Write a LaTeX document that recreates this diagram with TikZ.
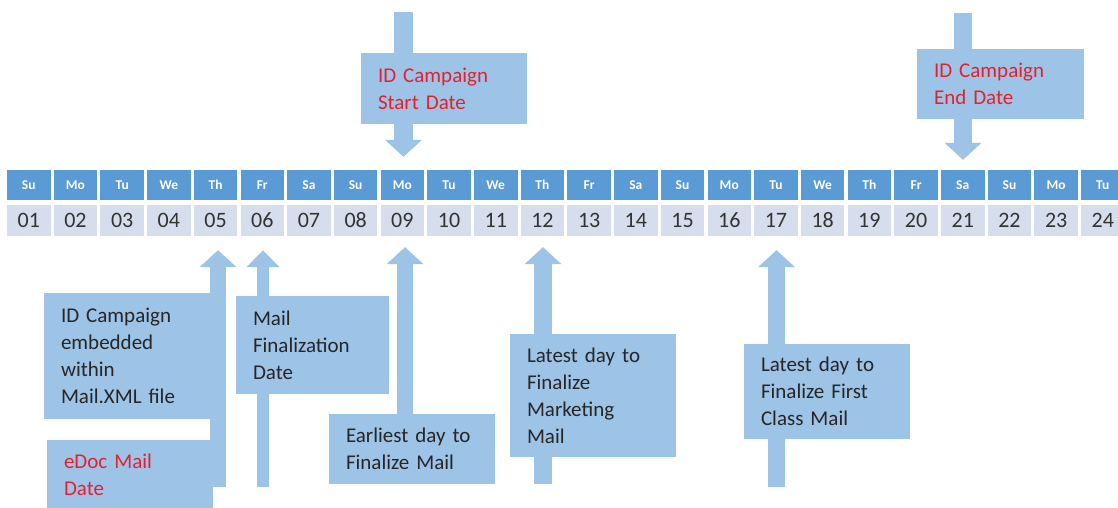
\documentclass[tikz,border=0pt]{standalone}
\usepackage{fontspec}
\setmainfont{Carlito}
\usetikzlibrary{arrows.meta}
\definecolor{hdrblue}{HTML}{5B9BD5}
\definecolor{cellgray}{HTML}{D6DEEE}
\definecolor{boxblue}{HTML}{9DC3E6}
\definecolor{txtred}{HTML}{E5202E}
\definecolor{numgray}{HTML}{333333}
\definecolor{txtdark}{HTML}{262626}
\begin{document}
\begin{tikzpicture}[x=1pt,y=-1pt,
 hdr/.style={fill=hdrblue, text=white, minimum width=43.5pt, minimum height=30pt, inner sep=0pt, font=\fontsize{13.5}{13.5}\selectfont\bfseries},
 num/.style={fill=cellgray, text=numgray, minimum width=43.5pt, minimum height=31pt, inner sep=0pt, font=\fontsize{22}{22}\selectfont},
 box/.style={fill=boxblue, text=txtdark, inner xsep=17pt, inner ysep=0pt, outer sep=0pt, align=left, font=\fontsize{21}{27}\selectfont},
 redtext/.style={text=txtred},
 bigarrow/.style={draw=boxblue, line width=#1, -{Triangle[width=36pt,length=17pt]}},
 narrowarrow/.style={draw=boxblue, line width=#1, -{Triangle[width=32pt,length=17pt]}},
]
\useasboundingbox (0,0) rectangle (1118,508);
\fill[white] (0,0) rectangle (1118,508);

% calendar
\foreach \d [count=\i] in {Su,Mo,Tu,We,Th,Fr,Sa,Su,Mo,Tu,We,Th,Fr,Sa,Su,Mo,Tu,We,Th,Fr,Sa,Su,Mo,Tu}{
  \pgfmathsetmacro\cx{28.75+46.7*(\i-1)}
  \node[hdr] (h\i) at (\cx,185) {\d};
  \node[num] (d\i) at (\cx,220.5) {\ifnum\i<10 0\fi\i};
}

% arrow tails
\coordinate (t5) at (218,487);
\coordinate (t6) at (263,487);
\coordinate (t9) at (405,414);
\coordinate (t12) at (543,484);
\coordinate (t17) at (776.5,487);
\coordinate (ts) at (403.5,12);
\coordinate (te) at (963,13);

% arrows
\draw[bigarrow=16pt, shorten >=14pt] (t5) -- (t5 |- d5.south);
\draw[narrowarrow=12.5pt, shorten >=14pt] (t6) -- (t6 |- d6.south);
\draw[bigarrow=16pt, shorten >=11pt] (t9) -- (t9 |- d9.south);
\draw[bigarrow=17.5pt, shorten >=11pt] (t12) -- (t12 |- d12.south);
\draw[bigarrow=17.3pt, shorten >=14pt] (t17) -- (t17 |- d17.south);
\draw[bigarrow=19pt, shorten >=13pt] (ts) -- (ts |- h9.north);
\draw[bigarrow=18pt, shorten >=10pt] (te) -- (te |- h21.north);

% boxes
\node[box, minimum width=182pt, minimum height=126pt, text width=148pt] (idemb) at (135,356) {ID Campaign\\embedded\\within\\Mail.XML file};
\node[box, redtext, minimum width=166pt, minimum height=70pt, text width=132pt] (edoc) at (130,475) {eDoc Mail\\Date};
\node[box, minimum width=153pt, minimum height=98pt, text width=119pt] (mailfin) at (312.5,345) {Mail\\Finalization\\Date};
\node[box, minimum width=166pt, minimum height=70pt, text width=132pt] (earliest) at (412,449) {Earliest day to\\Finalize Mail};
\node[box, minimum width=166pt, minimum height=123pt, text width=132pt] (latestmkt) at (593,395.5) {Latest day to\\Finalize\\Marketing\\Mail};
\node[box, minimum width=166pt, minimum height=95pt, text width=132pt] (latestfc) at (827,391.5) {Latest day to\\Finalize First\\Class Mail};
\node[box, redtext, minimum width=166pt, minimum height=71pt, text width=132pt] (start) at (444,88.5) {ID Campaign\\Start Date};
\node[box, redtext, minimum width=167pt, minimum height=70pt, text width=133pt] (end) at (1000.5,84) {ID Campaign\\End Date};
\end{tikzpicture}
\end{document}
